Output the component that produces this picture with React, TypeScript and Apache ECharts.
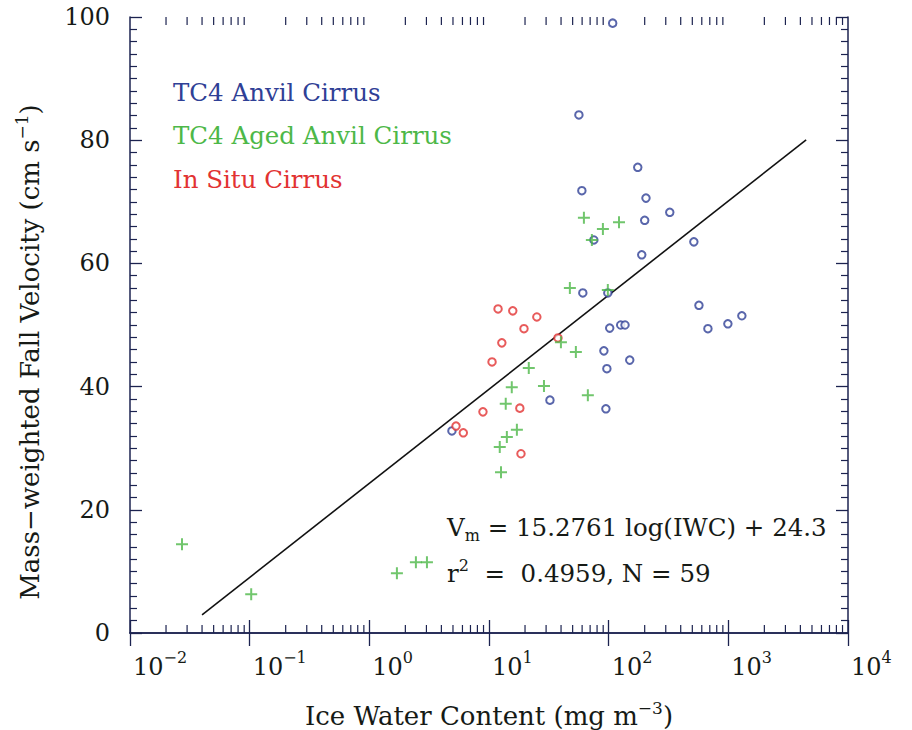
import React, { useEffect, useRef } from "react";
import * as echarts from "echarts";

// TC4 anvil cirrus: ice water content (mg m^-3) and mass-weighted fall velocity (cm s^-1)
const anvilIWC = [108, 56.4, 59.7, 175, 205, 200, 324, 515, 189, 75.2, 60.8, 98.4, 568, 1297, 991, 675, 102, 126, 137, 91.2, 150, 96.6, 94.8, 32.3, 4.9];
const anvilVm = [99.0, 84.1, 71.8, 75.6, 70.6, 67.0, 68.3, 63.5, 61.4, 63.8, 55.2, 55.2, 53.2, 51.5, 50.2, 49.4, 49.5, 50.0, 50.0, 45.8, 44.3, 42.9, 36.4, 37.8, 32.8];

// TC4 aged anvil cirrus
const agedIWC = [62.1, 89.5, 122, 72.4, 47.4, 98.4, 39.9, 53.2, 21.5, 15.5, 28.8, 67.0, 13.8, 17.1, 14.1, 12.3, 12.6, 0.0272, 0.103, 1.70, 2.45, 3.03];
const agedVm = [67.4, 65.6, 66.7, 63.8, 56.0, 55.7, 47.2, 45.6, 43.0, 39.9, 40.1, 38.6, 37.2, 33.0, 31.8, 30.2, 26.1, 14.4, 6.3, 9.7, 11.5, 11.5];

// In situ cirrus
const inSituIWC = [11.9, 15.8, 25.1, 19.6, 12.8, 10.6, 37.7, 8.9, 18.1, 5.3, 6.1, 18.5];
const inSituVm = [52.6, 52.3, 51.3, 49.4, 47.1, 44.0, 47.9, 35.9, 36.5, 33.6, 32.5, 29.1];

// Least-squares fit Vm = a log10(IWC) + b, drawn over this IWC range
const fitSlope = 15.2761;
const fitIntercept = 24.3;
const fitRange = [0.04, 4470];

// Axis ranges and tick layout
const xMin = 0.01;
const xMax = 10000;
const yMin = 0;
const yMax = 100;
const yInterval = 20;
const minorDecades = [0.01, 0.1, 1, 10, 100, 1000];
const minorMultipliers = [2, 3, 4, 5, 6, 7, 8, 9];

const seriesNames = ["TC4 Anvil Cirrus", "TC4 Aged Anvil Cirrus", "In Situ Cirrus"];
const seriesColors = ["#2f4096", "#4db848", "#e23232"];

const FONT = "DejaVu Serif";
const INK = "#161a16";
const AXIS = "#1c2350";

function pairs(xs: number[], ys: number[]) {
  return xs.map((x, i) => [x, ys[i]]);
}

export default function App() {
  const ref = useRef<HTMLDivElement>(null);

  useEffect(() => {
    document.body.style.margin = "0";
    if (!ref.current) return;
    const chart = echarts.init(ref.current, null, { renderer: "svg" });

    const minorTicks: number[][] = [];
    minorDecades.forEach((d) => minorMultipliers.forEach((m) => minorTicks.push([d * m, yMin])));

    const fitLine = fitRange.map((x) => [x, fitSlope * Math.log10(x) + fitIntercept]);

    const supLabel = (v: number) => {
      const e = Math.round(Math.log10(v));
      return "{b|10}{s|" + (e < 0 ? "\u2212" + -e : String(e)) + "}";
    };

    const titleRich = {
      b: { fontFamily: FONT, fontSize: 26, fill: INK, lineHeight: 34, verticalAlign: "middle" },
      sup: { fontFamily: FONT, fontSize: 17, fill: INK, lineHeight: 17, verticalAlign: "top" },
    };
    const noteRich = {
      b: { fontFamily: FONT, fontSize: 24.5, fill: INK, lineHeight: 32, verticalAlign: "middle" },
      sub: { fontFamily: FONT, fontSize: 16, fill: INK, lineHeight: 16, verticalAlign: "bottom" },
      sup: { fontFamily: FONT, fontSize: 16, fill: INK, lineHeight: 16, verticalAlign: "top" },
    };

    const xAxisBase = {
      type: "log" as const,
      logBase: 10,
      min: xMin,
      max: xMax,
      splitLine: { show: false },
      axisLine: { show: true, lineStyle: { color: AXIS, width: 1.5 } },
      axisTick: { show: true, inside: true, length: 13, lineStyle: { color: AXIS, width: 1.3 } },
    };
    const yAxisBase = {
      type: "value" as const,
      min: yMin,
      max: yMax,
      interval: yInterval,
      splitLine: { show: false },
      axisLine: { show: true, lineStyle: { color: AXIS, width: 1.5 } },
      axisTick: { show: true, inside: true, length: 12, lineStyle: { color: AXIS, width: 1.3 } },
      minorTick: { show: true, splitNumber: 10, length: 7, lineStyle: { color: AXIS, width: 1.2 } },
    };

    chart.setOption({
      animation: false,
      backgroundColor: "#ffffff",
      grid: { left: 130, right: 64, top: 17, bottom: 97, containLabel: false },
      xAxis: [
        {
          ...xAxisBase,
          position: "bottom",
          axisLabel: {
            show: true,
            interval: 0,
            align: "left",
            margin: 16,
            showMinLabel: true,
            showMaxLabel: true,
            formatter: supLabel,
            rich: {
              b: { fontFamily: FONT, fontSize: 24, color: INK, lineHeight: 30, verticalAlign: "bottom", padding: [0, 0, 0, 3] },
              s: { fontFamily: FONT, fontSize: 16, color: INK, lineHeight: 16, verticalAlign: "top" },
            },
          },
        },
        { ...xAxisBase, position: "top", axisLabel: { show: false } },
      ],
      yAxis: [
        {
          ...yAxisBase,
          position: "left",
          axisLabel: { show: true, margin: 20, fontFamily: FONT, fontSize: 24, color: INK },
        },
        { ...yAxisBase, position: "right", axisLabel: { show: false } },
      ],
      series: [
        {
          name: "minor ticks",
          type: "custom",
          xAxisIndex: 0,
          yAxisIndex: 0,
          silent: true,
          data: minorTicks,
          encode: { x: 0, y: 1 },
          renderItem: (_params: any, api: any) => {
            const v = api.value(0);
            const b = api.coord([v, yMin]);
            const t = api.coord([v, yMax]);
            const st = { stroke: AXIS, lineWidth: 1.2 };
            return {
              type: "group",
              children: [
                { type: "line", shape: { x1: b[0], y1: b[1], x2: b[0], y2: b[1] - 8 }, style: st },
                { type: "line", shape: { x1: t[0], y1: t[1], x2: t[0], y2: t[1] + 8 }, style: st },
              ],
            };
          },
        },
        {
          name: "fit",
          type: "line",
          data: fitLine,
          symbol: "none",
          silent: true,
          lineStyle: { color: "#111111", width: 1.6 },
          z: 3,
        },
        {
          name: seriesNames[0],
          type: "scatter",
          data: pairs(anvilIWC, anvilVm),
          symbol: "emptyCircle",
          symbolSize: 7.5,
          itemStyle: { color: seriesColors[0], borderColor: seriesColors[0], borderWidth: 2.2 },
          z: 4,
        },
        {
          name: seriesNames[1],
          type: "scatter",
          data: pairs(agedIWC, agedVm),
          symbol: "path://M0,6 L12,6 M6,0 L6,12",
          symbolSize: 12,
          itemStyle: { color: "none", borderColor: seriesColors[1], borderWidth: 2 },
          z: 5,
        },
        {
          name: seriesNames[2],
          type: "scatter",
          data: pairs(inSituIWC, inSituVm),
          symbol: "emptyCircle",
          symbolSize: 7.5,
          itemStyle: { color: seriesColors[2], borderColor: seriesColors[2], borderWidth: 2.2 },
          z: 4,
        },
      ],
      graphic: [
        // series key
        ...seriesNames.map((name, i) => ({
          type: "text",
          x: 173,
          y: 92 + i * 43.5,
          style: { text: name, fill: seriesColors[i], font: `24.5px "${FONT}"`, verticalAlign: "middle" },
        })),
        // fit annotation
        {
          type: "text",
          x: 447,
          y: 527,
          style: {
            text: "{b|V}{sub|m}{b| = 15.2761 log(IWC) + 24.3}",
            verticalAlign: "middle",
            rich: noteRich,
          },
        },
        {
          type: "text",
          x: 447,
          y: 573,
          style: {
            text: "{b|r}{sup|2}{b|  =  0.4959, N = 59}",
            verticalAlign: "middle",
            rich: noteRich,
          },
        },
        // x axis title
        {
          type: "text",
          x: 489,
          y: 716,
          style: {
            text: "{b|Ice Water Content (mg m}{sup|\u22123}{b|)}",
            align: "center",
            verticalAlign: "middle",
            rich: titleRich,
          },
        },
        // y axis title
        {
          type: "text",
          x: 30,
          y: 352,
          rotation: Math.PI / 2,
          style: {
            text: "{b|Mass\u2212weighted Fall Velocity (cm s}{sup|\u22121}{b|)}",
            align: "center",
            verticalAlign: "middle",
            rich: titleRich,
          },
        },
      ],
    });

    return () => chart.dispose();
  }, []);

  return <div ref={ref} style={{ width: 912, height: 730 }} />;
}
